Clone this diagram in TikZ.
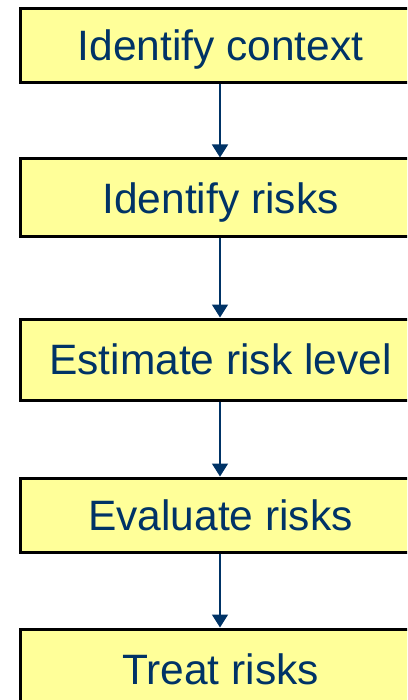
\documentclass[tikz,border=0pt]{standalone}
\usepackage{fontspec}
\setmainfont{Liberation Sans}
\usetikzlibrary{arrows.meta}
\definecolor{boxfill}{HTML}{FFFF99}
\definecolor{navy}{HTML}{003366}
\begin{document}
\begin{tikzpicture}[x=1pt,y=-1pt,
  stepbox/.style={draw=black, line width=3pt, fill=boxfill, text=navy,
    minimum width=401pt, inner sep=0pt,
    font=\fontsize{42.5}{50}\selectfont, text height=30.4pt, text depth=0pt},
  arr/.style={draw=navy, line width=1.6pt, -{Triangle[width=16pt,length=13pt]}}]
\useasboundingbox (0,0) rectangle (407,700);
\clip (0,0) rectangle (407,700);
\node[stepbox, minimum height=74pt] (a) at (220.5,45.5) {Identify context};
\node[stepbox, minimum height=78pt] (b) at (220.5,198) {Identify risks};
\node[stepbox, minimum height=81pt] (c) at (220.5,359.5) {Estimate risk level};
\node[stepbox, minimum height=74pt] (d) at (220.5,515) {Evaluate risks};
\node[stepbox, minimum height=80pt] (e) at (220.5,669) {Treat risks};
\draw[arr] (a.south -| 220,0) -- (b.north -| 220,0);
\draw[arr] (b.south -| 220,0) -- (c.north -| 220,0);
\draw[arr] (c.south -| 220,0) -- (d.north -| 220,0);
\draw[arr] (d.south -| 220,0) -- (e.north -| 220,0);
\end{tikzpicture}
\end{document}
